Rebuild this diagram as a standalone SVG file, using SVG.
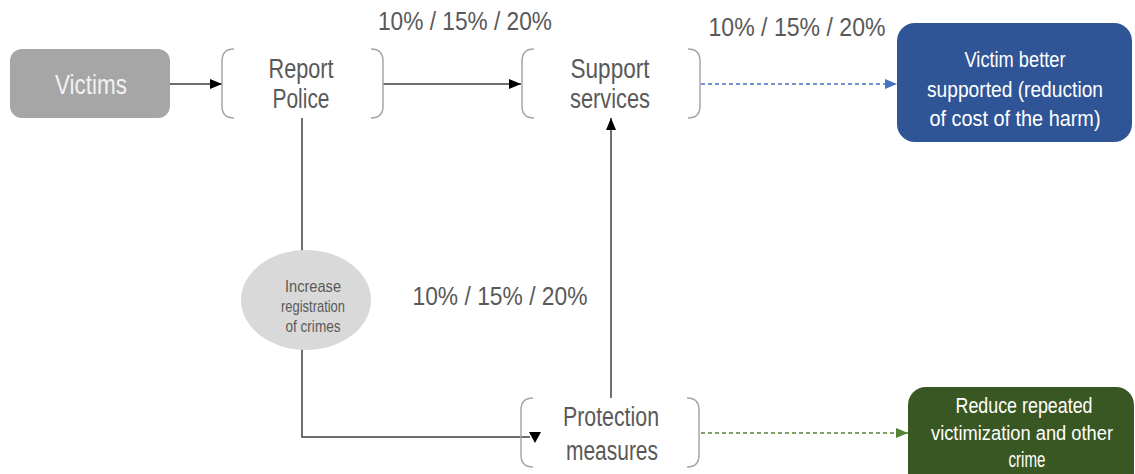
<svg xmlns="http://www.w3.org/2000/svg" width="1135" height="474" viewBox="0 0 1135 474">
<style>
text{font-family:"Liberation Sans",Arial,sans-serif;text-anchor:middle}
.g{fill:#595959}
.w{fill:#ffffff}
.big{font-size:27px}
.mid{font-size:22px}
.lbl{font-size:26px;fill:#595959}
.sm{font-size:17px;fill:#595959}
.br{fill:none;stroke:#a6a6a6;stroke-width:1.5}
.ln{fill:none;stroke:#3f3f3f;stroke-width:1.5}
.db{fill:none;stroke:#4472c4;stroke-width:1.5;stroke-dasharray:4 3}
.dg{fill:none;stroke:#548235;stroke-width:1.5;stroke-dasharray:4 3}
</style>
<defs>
<marker id="ab" markerUnits="userSpaceOnUse" markerWidth="12" markerHeight="12" refX="12" refY="6" orient="auto"><path d="M0,1 L12,6 L0,11 z" fill="#000"/></marker>
<marker id="abl" markerUnits="userSpaceOnUse" markerWidth="12" markerHeight="12" refX="12" refY="6" orient="auto"><path d="M0,1 L12,6 L0,11 z" fill="#4472c4"/></marker>
<marker id="agr" markerUnits="userSpaceOnUse" markerWidth="12" markerHeight="12" refX="12" refY="6" orient="auto"><path d="M0,1 L12,6 L0,11 z" fill="#548235"/></marker>
</defs>
<rect width="1135" height="474" fill="#fff"/>

<g id="connectors">
<path class="ln" d="M170,84 H222" marker-end="url(#ab)"/>
<path class="ln" d="M383,84 H521" marker-end="url(#ab)"/>
<path class="db" d="M701,84 H897" marker-end="url(#abl)"/>
<path class="ln" d="M611,398 V118" marker-end="url(#ab)"/>
<path class="ln" d="M302,118 V251"/>
<path class="ln" d="M302,349 V437 H530"/>
<polygon points="529,432 541,432 535,443" fill="#000"/>
<path class="dg" d="M701,433 H908" marker-end="url(#agr)"/>
</g>

<g id="labels">
<text class="lbl" x="465" y="30" textLength="174" lengthAdjust="spacingAndGlyphs">10% / 15% / 20%</text>
<text class="lbl" x="797" y="36" textLength="177" lengthAdjust="spacingAndGlyphs">10% / 15% / 20%</text>
<text class="lbl" x="500" y="305" textLength="175" lengthAdjust="spacingAndGlyphs">10% / 15% / 20%</text>
</g>

<g id="victims">
<rect x="10" y="49" width="160" height="69" rx="12" fill="#a6a6a6"/>
<text class="big" x="91" y="94" fill="#f2f2f2" textLength="72" lengthAdjust="spacingAndGlyphs">Victims</text>
</g>

<g id="report-police">
<path class="br" d="M234,49 Q222,49 222,61 V106 Q222,118 234,118"/>
<path class="br" d="M371,49 Q383,49 383,61 V106 Q383,118 371,118"/>
<text class="big g" x="301" y="78" textLength="65" lengthAdjust="spacingAndGlyphs">Report</text>
<text class="big g" x="301" y="108" textLength="57" lengthAdjust="spacingAndGlyphs">Police</text>
</g>

<g id="support-services">
<path class="br" d="M534,49 Q522,49 522,61 V106 Q522,118 534,118"/>
<path class="br" d="M688,49 Q700,49 700,61 V106 Q700,118 688,118"/>
<text class="big g" x="610" y="78" textLength="79" lengthAdjust="spacingAndGlyphs">Support</text>
<text class="big g" x="610" y="108" textLength="80" lengthAdjust="spacingAndGlyphs">services</text>
</g>

<g id="victim-better-supported">
<rect x="897" y="23" width="235" height="119" rx="18" fill="#2f5597"/>
<text class="mid w" x="1015" y="67" textLength="101" lengthAdjust="spacingAndGlyphs">Victim better</text>
<text class="mid w" x="1015" y="97" textLength="176" lengthAdjust="spacingAndGlyphs">supported (reduction</text>
<text class="mid w" x="1015" y="126" textLength="171" lengthAdjust="spacingAndGlyphs">of cost of the harm)</text>
</g>

<g id="increase-registration">
<ellipse cx="306" cy="300" rx="65" ry="50" fill="#d9d9d9"/>
<text class="sm" x="313" y="292" textLength="56" lengthAdjust="spacingAndGlyphs">Increase</text>
<text class="sm" x="313" y="312" textLength="64" lengthAdjust="spacingAndGlyphs">registration</text>
<text class="sm" x="313" y="332" textLength="55" lengthAdjust="spacingAndGlyphs">of crimes</text>
</g>

<g id="protection-measures">
<path class="br" d="M533,398 Q521,398 521,410 V455 Q521,467 533,467"/>
<path class="br" d="M687,398 Q699,398 699,410 V455 Q699,467 687,467"/>
<text class="big g" x="611" y="426" textLength="96" lengthAdjust="spacingAndGlyphs">Protection</text>
<text class="big g" x="612" y="460" textLength="92" lengthAdjust="spacingAndGlyphs">measures</text>
</g>

<g id="reduce-repeated">
<rect x="908" y="387" width="226" height="110" rx="18" fill="#385723"/>
<text class="mid w" x="1024" y="413" textLength="137" lengthAdjust="spacingAndGlyphs">Reduce repeated</text>
<text class="w" x="1022" y="440" font-size="20" textLength="182" lengthAdjust="spacingAndGlyphs">victimization and other</text>
<text class="mid w" x="1027" y="467" textLength="37" lengthAdjust="spacingAndGlyphs">crime</text>
</g>
</svg>
